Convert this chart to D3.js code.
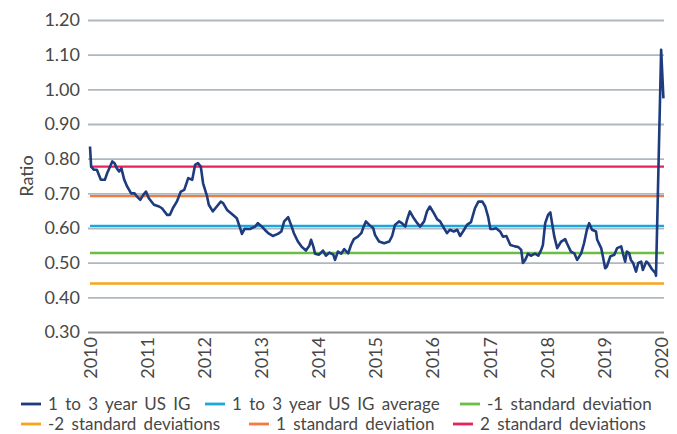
<!DOCTYPE html>
<html>
<head>
<meta charset="utf-8">
<script src="https://cdn.jsdelivr.net/npm/d3@7"></script>
<style>
  body { margin: 0; background: #fff; }
  #chart text { font-family: Lato, "Open Sans", sans-serif; font-weight: 400; fill: #474747; }
</style>
</head>
<body>
<div id="chart"></div>
<script>
// decimal year of each reading
var dates = [
    2010.00, 2010.02, 2010.07, 2010.12, 2010.19, 2010.26, 2010.30, 2010.39, 2010.43, 2010.47,
    2010.51, 2010.55, 2010.60, 2010.65, 2010.72, 2010.78, 2010.82, 2010.88, 2010.93, 2010.98,
    2011.03, 2011.12, 2011.21, 2011.26, 2011.35, 2011.40, 2011.45, 2011.52, 2011.59, 2011.65,
    2011.72, 2011.79, 2011.84, 2011.89, 2011.94, 2011.98, 2012.05, 2012.08, 2012.15, 2012.22,
    2012.29, 2012.33, 2012.40, 2012.50, 2012.57, 2012.63, 2012.66, 2012.71, 2012.80, 2012.89,
    2012.94, 2013.01, 2013.06, 2013.12, 2013.20, 2013.29, 2013.35, 2013.40, 2013.47, 2013.52,
    2013.57, 2013.64, 2013.70, 2013.78, 2013.84, 2013.87, 2013.91, 2013.94, 2014.01, 2014.08,
    2014.13, 2014.19, 2014.26, 2014.29, 2014.34, 2014.40, 2014.45, 2014.52, 2014.57, 2014.62,
    2014.69, 2014.75, 2014.78, 2014.83, 2014.89, 2014.96, 2014.99, 2015.06, 2015.15, 2015.24,
    2015.29, 2015.34, 2015.41, 2015.46, 2015.52, 2015.55, 2015.60, 2015.67, 2015.73, 2015.78,
    2015.85, 2015.90, 2015.95, 2016.02, 2016.08, 2016.13, 2016.20, 2016.25, 2016.30, 2016.37,
    2016.43, 2016.48, 2016.55, 2016.60, 2016.67, 2016.74, 2016.80, 2016.87, 2016.92, 2016.97,
    2017.01, 2017.06, 2017.11, 2017.18, 2017.23, 2017.29, 2017.36, 2017.44, 2017.50, 2017.55,
    2017.58, 2017.62, 2017.67, 2017.72, 2017.79, 2017.85, 2017.90, 2017.93, 2017.97, 2018.02,
    2018.06, 2018.09, 2018.13, 2018.18, 2018.25, 2018.32, 2018.35, 2018.42, 2018.48, 2018.53,
    2018.60, 2018.65, 2018.70, 2018.74, 2018.79, 2018.86, 2018.88, 2018.95, 2018.98, 2019.02,
    2019.05, 2019.11, 2019.18, 2019.23, 2019.30, 2019.33, 2019.37, 2019.40, 2019.44, 2019.47,
    2019.51, 2019.56, 2019.60, 2019.65, 2019.68, 2019.74, 2019.77, 2019.81, 2019.84, 2019.90,
    2019.91, 2020.00, 2020.04
];

var ratios = [
    0.835, 0.777, 0.768, 0.768, 0.739, 0.739, 0.758, 0.792, 0.787, 0.772,
    0.763, 0.772, 0.739, 0.720, 0.700, 0.700, 0.691, 0.681, 0.695, 0.705,
    0.686, 0.667, 0.662, 0.657, 0.638, 0.638, 0.657, 0.676, 0.705, 0.710,
    0.744, 0.739, 0.782, 0.787, 0.777, 0.729, 0.691, 0.667, 0.648, 0.662,
    0.676, 0.672, 0.652, 0.638, 0.628, 0.599, 0.583, 0.598, 0.597, 0.604,
    0.614, 0.604, 0.595, 0.585, 0.577, 0.583, 0.590, 0.619, 0.631, 0.609,
    0.585, 0.561, 0.547, 0.535, 0.549, 0.566, 0.547, 0.526, 0.523, 0.535,
    0.520, 0.529, 0.523, 0.508, 0.532, 0.526, 0.539, 0.527, 0.551, 0.568,
    0.575, 0.585, 0.599, 0.619, 0.609, 0.599, 0.580, 0.561, 0.556, 0.561,
    0.577, 0.609, 0.619, 0.614, 0.604, 0.623, 0.648, 0.628, 0.614, 0.604,
    0.619, 0.648, 0.662, 0.643, 0.625, 0.619, 0.599, 0.585, 0.595, 0.590,
    0.595, 0.577, 0.595, 0.609, 0.617, 0.657, 0.676, 0.676, 0.662, 0.633,
    0.597, 0.597, 0.599, 0.590, 0.575, 0.577, 0.551, 0.547, 0.545, 0.537,
    0.499, 0.508, 0.526, 0.520, 0.526, 0.520, 0.537, 0.551, 0.614, 0.638,
    0.645, 0.614, 0.575, 0.542, 0.561, 0.568, 0.556, 0.532, 0.527, 0.508,
    0.527, 0.556, 0.595, 0.614, 0.595, 0.590, 0.566, 0.542, 0.518, 0.484,
    0.489, 0.518, 0.523, 0.542, 0.547, 0.527, 0.503, 0.532, 0.527, 0.508,
    0.499, 0.474, 0.499, 0.503, 0.479, 0.503, 0.499, 0.489, 0.481, 0.470,
    0.462, 1.114, 0.974
];

var ref_names = ["1 to 3 year US IG average", "-1 standard deviation", "-2 standard deviations",
                 "1 standard deviation", "2 standard deviations"];
var ref_values = [0.606, 0.528, 0.440, 0.692, 0.777];
var ref_colours = ["#1aa7e0", "#6cbd45", "#f9a51a", "#f47a3d", "#e8215a"];

var year_ticks = [2010, 2011, 2012, 2013, 2014, 2015, 2016, 2017, 2018, 2019, 2020];
var y_ticks = [0.30, 0.40, 0.50, 0.60, 0.70, 0.80, 0.90, 1.00, 1.10, 1.20];

var series_name = "1 to 3 year US IG";
var series_colour = "#1d3b7d";

var margin = {top: 20, right: 13, bottom: 102, left: 88},
    width = 677 - margin.left - margin.right,
    height = 434 - margin.top - margin.bottom;

var svg = d3.select("#chart").append("svg")
        .attr("width", 677)
        .attr("height", 434)
      .append("g")
        .attr("transform", "translate(" + margin.left + "," + margin.top + ")");

var xScale = d3.scaleLinear().domain([2009.965, 2020.05]).range([0, width]);
var yScale = d3.scaleLinear().domain([0.3, 1.2]).range([height, 0]);

// gridlines + y labels
var yAxis = d3.axisLeft(yScale)
    .tickValues(y_ticks)
    .tickFormat(d3.format(".2f"))
    .tickSize(-width)
    .tickPadding(8);

var y_axis_elem = svg.append("g")
    .attr("class", "y axis")
    .call(yAxis);
y_axis_elem.select(".domain").remove();
y_axis_elem.selectAll("line")
    .attr("stroke", function(d) { return d === 0.3 ? "#8c8c8c" : "#aeb8c1"; })
    .attr("stroke-width", 1.8);
y_axis_elem.selectAll("text")
    .style("font-size", "18px");

svg.append("text")
    .attr("transform", "rotate(-90)")
    .attr("x", -156)
    .attr("y", -55)
    .style("text-anchor", "middle")
    .style("font-size", "18px")
    .text("Ratio");

// year labels, rotated
var xAxis = d3.axisBottom(xScale)
    .tickValues(year_ticks)
    .tickFormat(d3.format("d"))
    .tickSize(0);

var x_axis_elem = svg.append("g")
    .attr("class", "x axis")
    .attr("transform", "translate(0," + height + ")")
    .call(xAxis);
x_axis_elem.select(".domain").remove();
x_axis_elem.selectAll("text")
    .style("font-size", "18px")
    .style("text-anchor", "end")
    .attr("transform", "rotate(-90)")
    .attr("x", -5)
    .attr("y", 0)
    .attr("dy", "0.35em");

// reference lines
var refs = ref_names.map(function(n, i) {
    return {name: n, value: ref_values[i], colour: ref_colours[i]};
});

svg.selectAll(".ref")
        .data(refs)
    .enter().append("line")
        .attr("class", "ref")
        .attr("x1", xScale(2010))
        .attr("x2", width)
        .attr("y1", function(d) { return yScale(d.value); })
        .attr("y2", function(d) { return yScale(d.value); })
        .attr("stroke", function(d) { return d.colour; })
        .attr("stroke-width", 2.4);

var series = dates.map(function(d, i) { return {x: d, y: ratios[i]}; });

var ratio_line = d3.line()
    .x(function(d) { return xScale(d.x); })
    .y(function(d) { return yScale(d.y); });

svg.append("path")
    .datum(series)
    .attr("fill", "none")
    .attr("stroke", series_colour)
    .attr("stroke-width", 2.6)
    .attr("stroke-linejoin", "round")
    .attr("d", ratio_line);

// legend, two rows in the order of the original
var legend_items = [
    {name: series_name, colour: series_colour, x: 21, row: 0},
    {name: ref_names[0], colour: ref_colours[0], x: 205, row: 0},
    {name: ref_names[1], colour: ref_colours[1], x: 460, row: 0},
    {name: ref_names[2], colour: ref_colours[2], x: 21, row: 1},
    {name: ref_names[3], colour: ref_colours[3], x: 249, row: 1},
    {name: ref_names[4], colour: ref_colours[4], x: 453, row: 1}
];

var legend = d3.select("#chart svg").append("g")
    .attr("class", "legend");

var item = legend.selectAll(".item")
        .data(legend_items)
    .enter().append("g")
        .attr("class", "item")
        .attr("transform", function(d) {
            return "translate(" + d.x + "," + (404 + d.row * 20) + ")";
        });

item.append("line")
    .attr("x1", 0)
    .attr("x2", 20)
    .attr("stroke", function(d) { return d.colour; })
    .attr("stroke-width", 2.8);

item.append("text")
    .attr("x", 27)
    .attr("dy", "0.35em")
    .style("font-size", "17px")
    .style("word-spacing", "3px")
    .text(function(d) { return d.name; });
</script>
</body>
</html>
